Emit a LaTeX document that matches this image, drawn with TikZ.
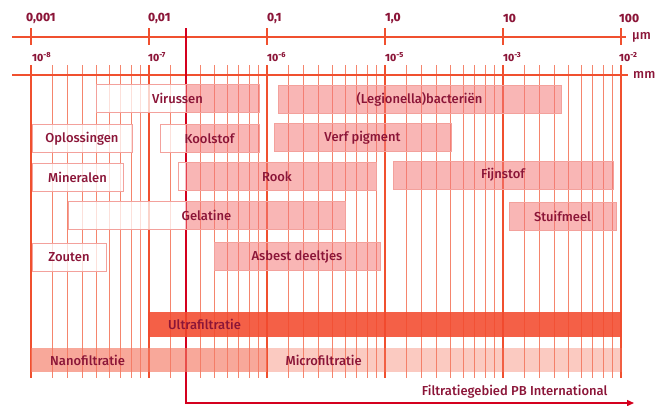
\documentclass[tikz,border=0pt]{standalone}
\usepackage{fontspec}
\setmainfont{Fira Sans Medium}
\usepackage{tikz}
\usetikzlibrary{arrows.meta,positioning}
\definecolor{lijnrood}{HTML}{F0502F}
\definecolor{pbrood}{HTML}{D4001E}
\definecolor{tekstrood}{HTML}{8B1538}
\definecolor{vakroze}{HTML}{F47A78}
\definecolor{vakrand}{HTML}{F3A19C}
\definecolor{ultrarood}{HTML}{F24A2E}
\definecolor{filterroze}{HTML}{F47A64}

\begin{document}
\begin{tikzpicture}[x=1pt,y=-1pt,
    every node/.style={font=\fontsize{13}{15}\selectfont,text=tekstrood},
    grootte/.style={draw=vakrand,line width=0.8pt,minimum height=28pt,inner sep=0pt,
      path picture={
        \fill[white,fill opacity=.75] (path picture bounding box.south west) rectangle (pb |- path picture bounding box.north);
        \fill[vakroze,fill opacity=.55] (pb |- path picture bounding box.south) rectangle (path picture bounding box.north east);}},
    filter/.style={minimum height=24pt,inner ysep=0pt,align=left,text opacity=1},
    as/.style={lijnrood,line width=1.6pt},
    schaal/.style={font=\bfseries\fontsize{12}{13}\selectfont,anchor=west,inner sep=1pt},
    expo/.style={font=\bfseries\fontsize{10.5}{11}\selectfont,anchor=west,inner sep=1pt},
    pbpijl/.style={-{Triangle[length=7pt,width=6pt]},pbrood,line width=1.4pt}
]
\useasboundingbox (0,0) rectangle (664,405);

% raster: decades and the steps in between
\foreach \d in {0,...,4}
  \foreach \m in {21,36.5,51.5,65,78,89.5,100,109}
    \draw[lijnrood!70,line width=0.8pt] ({31+118*\d+\m},65) -- ++(0,313);
\foreach \d in {0,...,5}
  \draw[lijnrood,line width=1.5pt] ({31+118*\d},65) -- ++(0,313);

% two scales
\draw[as] (12,37) -- (626,37) coordinate (umeind);
\foreach \d in {0,...,5}
  \draw[as] ({31+118*\d},28) -- ++(0,17);
\draw[as] (12,75) -- (628,75) coordinate (mmeind);
\node[right=5pt of umeind,inner sep=1pt] (um) {µm};
\node[right=4pt of mmeind,inner sep=1pt] (mm) {mm};

\foreach \x/\t in {25/{0,001},147/{0,01},266/{0,1},384/{1,0},502/10,618/100}
  \node[schaal] at (\x,18) {\t};
\foreach \x/\e in {31/8,147/7,266/6,384/5,502/3,618/2}
  \node[expo] at (\x,57) {10\textsuperscript{-\e}};

% filtration range PB
\coordinate (pb) at (186,28);
\coordinate (pbhoek) at (186,403);
\coordinate (pbeind) at (634,403);
\draw[pbpijl] (pb) -- (pbhoek) -- (pbeind);
\node[anchor=east] (pbtekst) at (611,392) {Filtratiegebied PB International};

% particles
\node[grootte,minimum width=163pt] (virus) at (177.5,98.5) {Virussen};
\node[grootte,minimum width=283pt] (legio) at (419.5,99) {(Legionella)bacteriën};
\node[grootte,minimum width=100pt] (oplos) at (82,138.5) {Oplossingen};
\node[grootte,minimum width=99pt] (kool) at (209.5,138.5) {Koolstof};
\node[grootte,minimum width=177pt] (verf) at (362.5,137.5) {Verf pigment};
\node[grootte,minimum width=91pt] (miner) at (77.5,177) {Mineralen};
\node[grootte,minimum width=198pt] (rook) at (277,176.5) {Rook};
\node[grootte,minimum width=220pt] (fijn) at (503,175) {Fijnstof};
\node[grootte,minimum width=277pt] (gelat) at (206.5,215.5) {Gelatine};
\node[grootte,minimum width=107pt] (stuif) at (562.5,216.5) {Stuifmeel};
\node[grootte,minimum width=74pt] (zout) at (69,257.5) {Zouten};
\node[grootte,minimum width=166pt] (asbest) at (297,256.5) {Asbest deeltjes};

% filtration techniques
\node[filter,fill=ultrarood,fill opacity=.88,minimum height=25pt,text width=433pt,inner xsep=20pt,anchor=west] (ultra) at (148,324.5) {Ultrafiltratie};
\node[filter,fill=filterroze,fill opacity=.65,text width=198pt,inner xsep=19pt,anchor=west] (nano) at (31,360) {Nanofiltratie};
\node[filter,fill=filterroze,fill opacity=.4,text width=318pt,inner xsep=18pt,right=0pt of nano] (micro) {Microfiltratie};
\end{tikzpicture}
\end{document}
